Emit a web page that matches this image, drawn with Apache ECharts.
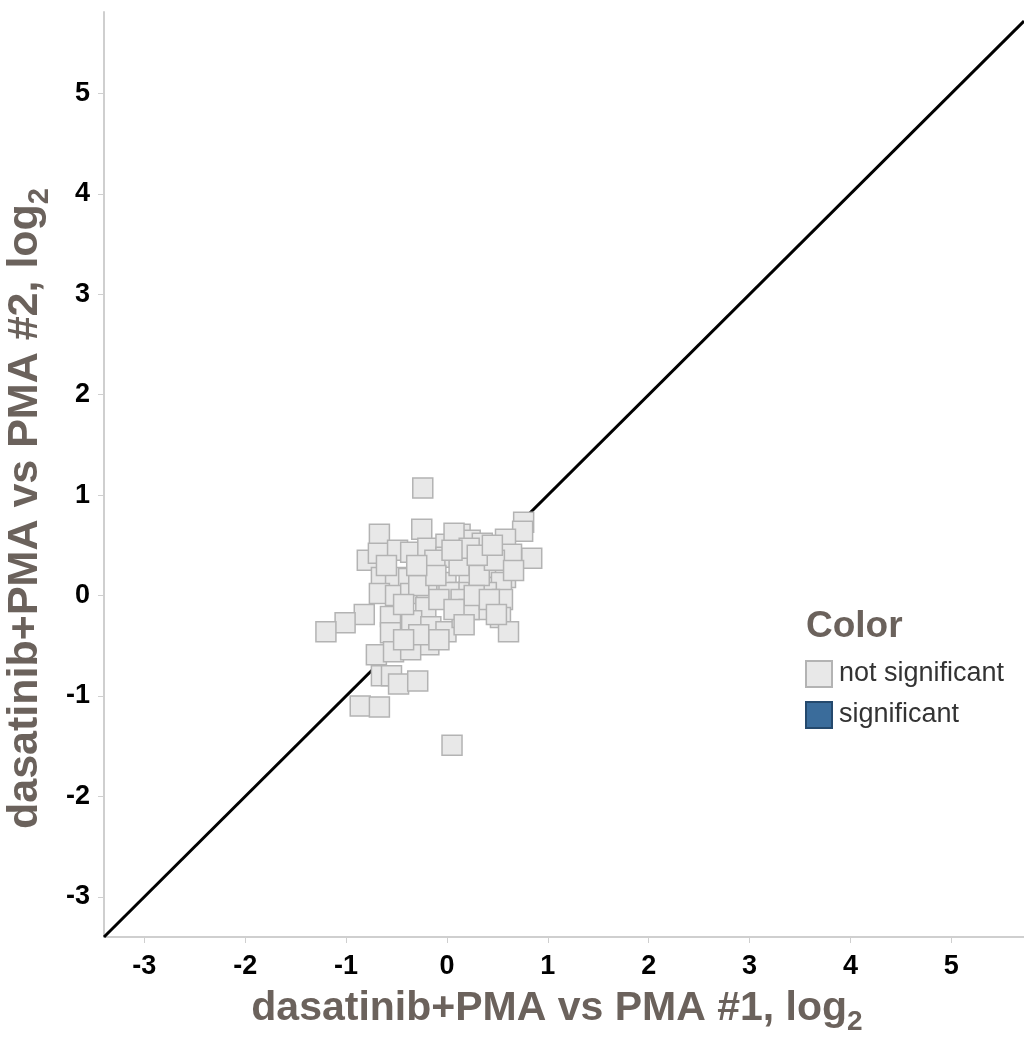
<!DOCTYPE html>
<html>
<head>
<meta charset="utf-8">
<script src="https://cdn.jsdelivr.net/npm/echarts@6/dist/echarts.min.js"></script>
<style>
  html, body { margin: 0; padding: 0; background: #fff; }
  #container { width: 1024px; height: 1041px; }
</style>
</head>
<body>
<div id="container"></div>
<script>
// log2 fold change, replicate #1 (x) vs replicate #2 (y)
var xValues = [
  -0.24, 0.76, 0.75, 0.58, 0.84, -0.67, -0.25, 0.13, -0.79, -0.68,
  -0.49, -0.36, -0.19, -0.01, 0.23, 0.24, 0.40, 0.42, 0.64, 0.58,
  -0.22, -0.01, -0.01, -0.65, -0.51, -0.38, 0.22, 0.39, 0.54, 0.12,
  -0.67, -0.51, -0.36, -0.20, 0.02, 0.14, 0.39, 0.55, -0.21, -0.82,
  -1.01, -1.20, -0.56, -0.56, -0.35, -0.16, -0.01, -0.18, -0.70, -0.53,
  -0.36, 0.53, 0.61, 0.15, 0.32, 0.22, -0.65, -0.55, -0.48, -0.29,
  -0.86, -0.67, 0.05, 0.07, 0.35, -0.12, 0.12, 0.32, -0.28, -0.08,
  0.27, -0.43, 0.07, -0.28, -0.08, 0.17, 0.42, 0.47, 0.66, -0.43,
  -0.60, -0.11, 0.22, 0.49, 0.05, 0.30, -0.30, 0.45
];
var yValues = [
  1.07, 0.73, 0.64, 0.56, 0.37, 0.61, 0.66, 0.61, 0.35, 0.42,
  0.45, 0.43, 0.47, 0.51, 0.55, 0.38, 0.48, 0.28, 0.41, 0.18,
  0.25, 0.13, 0.38, 0.18, 0.18, 0.17, 0.18, 0.08, 0.13, 0.03,
  0.02, 0.00, 0.02, 0.02, 0.03, -0.04, 0.03, -0.04, -0.12, -0.19,
  -0.27, -0.36, -0.21, -0.37, -0.25, -0.31, -0.36, -0.49, -0.59, -0.56,
  -0.54, -0.22, -0.36, -0.22, -0.14, -0.14, -0.80, -0.80, -0.88, -0.85,
  -1.10, -1.11, -1.49, 0.62, 0.52, 0.35, 0.30, 0.20, 0.10, -0.04,
  0.00, -0.09, -0.14, -0.39, -0.44, -0.29, -0.04, 0.35, 0.25, -0.44,
  0.30, 0.20, 0.47, -0.19, 0.45, 0.40, 0.30, 0.50
];
var tickValues = [-3, -2, -1, 0, 1, 2, 3, 4, 5];
var xRange = [-3.4, 5.72];
var yRange = [-3.4, 5.81];
var legendNames = ['not significant', 'significant'];

var points = [];
for (var i = 0; i < xValues.length; i++) {
    points.push([xValues[i], yValues[i]]);
}

var dom = document.getElementById('container');
var myChart = echarts.init(dom);
var font = 'Arial, "Liberation Sans", sans-serif';
var nameColor = '#6b625c';

function axisName(text) {
    return '{a|' + text + '}{s|2}';
}
function nameRich(size) {
    return {
        a: { fontSize: size, fontWeight: 'bold', color: nameColor, fontFamily: font },
        s: { fontSize: Math.round(size * 0.68), fontWeight: 'bold', color: nameColor, fontFamily: font, padding: [Math.round(size * 0.65), 0, 0, 0] }
    };
}

var option = {
    animation: false,
    backgroundColor: '#fff',
    grid: { left: 104, right: 0, top: 12, bottom: 104, containLabel: false, outerBoundsMode: 'none' },
    title: {
        text: 'Color',
        left: 801,
        top: 603,
        textStyle: { fontSize: 37, fontWeight: 'bold', color: nameColor, fontFamily: font }
    },
    legend: {
        data: legendNames,
        orient: 'vertical',
        left: 800,
        top: 655,
        icon: 'rect',
        itemWidth: 26,
        itemHeight: 26,
        itemGap: 13,
        textStyle: { fontSize: 27, color: '#333', fontFamily: font, padding: [0, 0, 0, 2] },
        selectedMode: false
    },
    xAxis: {
        type: 'value',
        min: xRange[0],
        max: xRange[1],
        name: axisName('dasatinib+PMA vs PMA #1, log'),
        nameLocation: 'middle',
        nameGap: 44,
        nameTextStyle: { rich: nameRich(41), padding: [0, 14, 0, 0] },
        splitLine: { show: false },
        axisLine: { show: true, onZero: false, lineStyle: { color: '#cfcfcf', width: 2 } },
        axisTick: { show: true, length: 6, customValues: tickValues, lineStyle: { color: '#cfcfcf' } },
        axisLabel: {
            customValues: tickValues,
            fontSize: 27, fontWeight: 'bold', color: '#000', fontFamily: font, margin: 16
        }
    },
    yAxis: {
        type: 'value',
        min: yRange[0],
        max: yRange[1],
        name: axisName('dasatinib+PMA vs PMA #2, log'),
        nameLocation: 'middle',
        nameGap: 50,
        nameTextStyle: { rich: nameRich(43), padding: [0, 68, 0, 0] },
        splitLine: { show: false },
        axisLine: { show: true, onZero: false, lineStyle: { color: '#cfcfcf', width: 2 } },
        axisTick: { show: true, length: 6, customValues: tickValues, lineStyle: { color: '#cfcfcf' } },
        axisLabel: {
            customValues: tickValues,
            fontSize: 27, fontWeight: 'bold', color: '#000', fontFamily: font, margin: 14
        }
    },
    series: [
        {
            name: 'diagonal',
            type: 'line',
            data: [[xRange[0], xRange[0]], [xRange[1], xRange[1]]],
            symbol: 'none',
            silent: true,
            lineStyle: { color: '#000', width: 3 },
            z: 1
        },
        {
            name: legendNames[0],
            type: 'scatter',
            data: points,
            symbol: 'rect',
            symbolSize: 20,
            itemStyle: { color: '#e8e8e8', borderColor: '#b3b3b3', borderWidth: 1.5, opacity: 1 },
            emphasis: { disabled: true },
            z: 2
        },
        {
            name: legendNames[1],
            type: 'scatter',
            data: [],
            symbol: 'rect',
            symbolSize: 20,
            itemStyle: { color: '#3a6c9b', borderColor: '#24496d', borderWidth: 2, opacity: 1 }
        }
    ]
};

myChart.setOption(option);
</script>
</body>
</html>
